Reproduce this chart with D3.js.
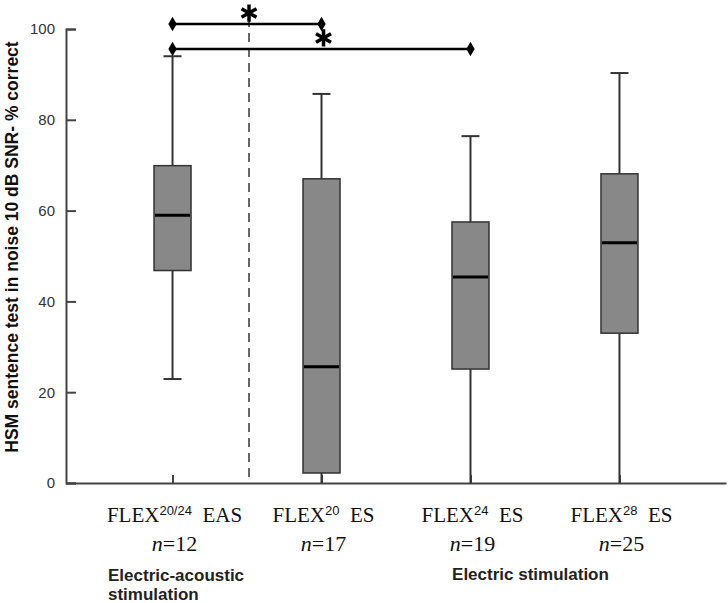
<!DOCTYPE html>
<html>
<head>
<meta charset="utf-8">
<script src="https://cdn.jsdelivr.net/npm/d3@7"></script>
<style>
  body { margin: 0; background: #fff; }
</style>
</head>
<body>
<div id="chart"></div>
<script>
var flexSup = ["20/24", "20", "24", "28"];
var modes = ["EAS", "ES", "ES", "ES"];
var nCounts = [12, 17, 19, 25];

// box plot values (% correct)
var whiskerLow = [22.9, 0, 0, 0];
var q1 = [46.8, 2.2, 25.1, 33.0];
var median = [59.0, 25.6, 45.4, 52.9];
var q3 = [69.9, 67.0, 57.5, 68.1];
var whiskerHigh = [94.0, 85.7, 76.4, 90.3];

var yTicks = [0, 20, 40, 60, 80, 100];

// significance brackets: [from, to] group index and height
var sigPairs = [[0, 1], [0, 2]];
var sigLevels = [101.1, 95.6];

var width = 728, height = 603;

var svg = d3.select("#chart").append("svg")
    .attr("width", width)
    .attr("height", height);

var x = d3.scalePoint()
    .domain(d3.range(flexSup.length))
    .range([66, 726])
    .padding(0.715);

var y = d3.scaleLinear()
    .domain([0, 100])
    .range([483, 29]);

var boxW = 37, capW = 18;

// separator between EAS and ES groups
svg.append("line")
    .attr("x1", (x(0) + x(1)) / 2 + 2)
    .attr("x2", (x(0) + x(1)) / 2 + 2)
    .attr("y1", 18)
    .attr("y2", y(0))
    .style("stroke", "#666")
    .style("stroke-width", 2)
    .style("stroke-dasharray", "9,6");

// axes
var yAxis = svg.append("g")
    .attr("transform", "translate(66,0)")
    .call(d3.axisLeft(y).tickValues(yTicks).tickSize(-10).tickPadding(11));
yAxis.select(".domain").style("stroke", "#444").style("stroke-width", 2);
yAxis.selectAll(".tick line").style("stroke", "#444").style("stroke-width", 2);
yAxis.selectAll("text")
    .style("font-family", "Liberation Sans, Arial, sans-serif")
    .style("font-size", "15px")
    .style("fill", "#333");

var xAxis = svg.append("g")
    .attr("transform", "translate(0," + y(0) + ")")
    .call(d3.axisBottom(x).tickSize(-8).tickSizeOuter(0).tickFormat(""));
xAxis.select(".domain").style("stroke", "#444").style("stroke-width", 2);
xAxis.selectAll(".tick line").style("stroke", "#444").style("stroke-width", 2);

// boxes
var box = svg.append("g").selectAll("g")
    .data(d3.range(flexSup.length))
    .enter().append("g");

box.append("line")
    .attr("x1", function(i) { return x(i); })
    .attr("x2", function(i) { return x(i); })
    .attr("y1", function(i) { return y(whiskerLow[i]); })
    .attr("y2", function(i) { return y(whiskerHigh[i]); })
    .style("stroke", "#333")
    .style("stroke-width", 2);

box.append("line")
    .attr("x1", function(i) { return x(i) - capW / 2; })
    .attr("x2", function(i) { return x(i) + capW / 2; })
    .attr("y1", function(i) { return y(whiskerHigh[i]); })
    .attr("y2", function(i) { return y(whiskerHigh[i]); })
    .style("stroke", "#333")
    .style("stroke-width", 2);

box.filter(function(i) { return whiskerLow[i] > 0; }).append("line")
    .attr("x1", function(i) { return x(i) - capW / 2; })
    .attr("x2", function(i) { return x(i) + capW / 2; })
    .attr("y1", function(i) { return y(whiskerLow[i]); })
    .attr("y2", function(i) { return y(whiskerLow[i]); })
    .style("stroke", "#333")
    .style("stroke-width", 2);

box.append("rect")
    .attr("x", function(i) { return x(i) - boxW / 2; })
    .attr("y", function(i) { return y(q3[i]); })
    .attr("width", boxW)
    .attr("height", function(i) { return y(q1[i]) - y(q3[i]); })
    .style("fill", "#888")
    .style("stroke", "#333")
    .style("stroke-width", 1.5);

box.append("line")
    .attr("x1", function(i) { return x(i) - boxW / 2 + 1; })
    .attr("x2", function(i) { return x(i) + boxW / 2 - 1; })
    .attr("y1", function(i) { return y(median[i]); })
    .attr("y2", function(i) { return y(median[i]); })
    .style("stroke", "#000")
    .style("stroke-width", 3);

// significance brackets
var sig = svg.append("g").selectAll("g")
    .data(sigPairs)
    .enter().append("g");

sig.append("line")
    .attr("x1", function(d) { return x(d[0]); })
    .attr("x2", function(d) { return x(d[1]); })
    .attr("y1", function(d, i) { return y(sigLevels[i]); })
    .attr("y2", function(d, i) { return y(sigLevels[i]); })
    .style("stroke", "#000")
    .style("stroke-width", 2.5);

sig.selectAll("path")
    .data(function(d, i) { return [[d[0], sigLevels[i]], [d[1], sigLevels[i]]]; })
    .enter().append("path")
    .attr("d", d3.symbol().type(d3.symbolDiamond).size(60))
    .attr("transform", function(p) { return "translate(" + x(p[0]) + "," + y(p[1]) + ")"; })
    .style("fill", "#000");

sig.append("path")
    .attr("d", d3.symbol().type(d3.symbolAsterisk).size(210))
    .attr("transform", function(d, i) {
      return "translate(" + ((x(d[0]) + x(d[1])) / 2 + 2) + "," + (y(sigLevels[i]) - 11) + ")";
    })
    .style("fill", "none")
    .style("stroke", "#000")
    .style("stroke-width", 3.5);

// y axis title
svg.append("text")
    .text("HSM sentence test in noise 10 dB SNR- % correct")
    .attr("transform", "translate(18," + 247 + ") rotate(-90)")
    .attr("text-anchor", "middle")
    .style("font-family", "Liberation Sans, Arial, sans-serif")
    .style("font-weight", "bold")
    .style("font-size", "17.5px")
    .style("fill", "#111");

// category labels
var lab = svg.append("g").selectAll("g")
    .data(d3.range(flexSup.length))
    .enter().append("g");

var t1 = lab.append("text")
    .attr("x", function(i) { return x(i) + 2; })
    .attr("y", 522)
    .attr("text-anchor", "middle")
    .style("font-family", "Liberation Serif, Times New Roman, serif")
    .style("font-size", "21px")
    .style("fill", "#111");
t1.append("tspan").text("FLEX");
t1.append("tspan")
    .text(function(i) { return flexSup[i]; })
    .attr("dy", -7)
    .style("font-family", "Liberation Sans, Arial, sans-serif")
    .style("font-size", "13px");
t1.append("tspan")
    .text(function(i) { return "\u00a0\u00a0" + modes[i]; })
    .attr("dy", 7);

var t2 = lab.append("text")
    .attr("x", function(i) { return x(i) + 2; })
    .attr("y", 551)
    .attr("text-anchor", "middle")
    .style("font-family", "Liberation Serif, Times New Roman, serif")
    .style("font-size", "22px")
    .style("fill", "#111");
t2.append("tspan").text("n").style("font-style", "italic");
t2.append("tspan").text(function(i) { return "=" + nCounts[i]; });

var grp = svg.append("g")
    .style("font-family", "Liberation Sans, Arial, sans-serif")
    .style("font-weight", "bold")
    .style("font-size", "17px")
    .style("fill", "#222");
grp.append("text").text("Electric-acoustic").attr("x", 108).attr("y", 581);
grp.append("text").text("stimulation").attr("x", 108).attr("y", 600);
grp.append("text").text("Electric stimulation")
    .attr("x", (x(1) + x(3)) / 2 + 60).attr("y", 580)
    .attr("text-anchor", "middle");
</script>
</body>
</html>
